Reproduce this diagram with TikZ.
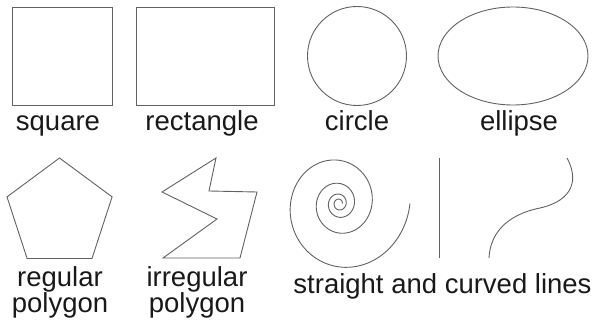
\documentclass[tikz,border=0pt]{standalone}
\usepackage{fontspec}
\setmainfont{Liberation Sans}
\usetikzlibrary{shapes.geometric}

\begin{document}
\begin{tikzpicture}[x=1pt, y=-1pt,
  outline/.style={draw=black!62, line width=0.9pt},
  shapebox/.style={outline, inner sep=0pt},
  caption/.style={anchor=base, align=center, text=black!90,
    font=\fontsize{27.5}{26}\selectfont, inner sep=0pt}]
\useasboundingbox (0,0) rectangle (602,323);
% top row
\node[shapebox, minimum width=100pt, minimum height=98pt] (square) at (62,56) {};
\node[shapebox, minimum width=138pt, minimum height=98pt] (rect) at (205,56) {};
\node[shapebox, circle, minimum size=99pt] (circ) at (357,56) {};
\node[shapebox, ellipse, minimum width=150pt, minimum height=98pt] (ell) at (513,56) {};
\node[caption] (squarelbl) at (58,131) {square};
\node[caption] (rectlbl) at (202,131) {rectangle};
\node[caption] (circlbl) at (357,131) {circle};
\node[caption] (elllbl) at (519,131) {ellipse};
% bottom row
\draw[outline] (59.5,213.2) ++(0,-55.2) coordinate (pent)
  -- ++(-52.5,38.9) -- ++(20.1,61.6) -- ++(64.9,0) -- ++(20.1,-61.6) -- cycle;
\draw[outline] (216,158) -- (209,191) -- (257,192) -- (240,258)
  -- (163,258) -- (217,219) -- (162,192) -- cycle;
\draw[outline] plot[domain=-1440:0, samples=240, smooth]
  ({339+71*exp(0.0021264*\x)*cos(\x)}, {203.5-1.08*71*exp(0.0021264*\x)*sin(\x)});
\draw[outline] (439,158) -- (439,258);
\draw[outline] (567,158) .. controls (578,178) and (575,200) .. (540,208)
  .. controls (505,215) and (490,235) .. (489,258);
\node[caption] (reglbl) at (60,312) {regular\\polygon};
\node[caption] (irreglbl) at (197,312) {irregular\\polygon};
\node[caption] (lineslbl) at (442.5,293) {straight and curved lines};
\end{tikzpicture}
\end{document}
